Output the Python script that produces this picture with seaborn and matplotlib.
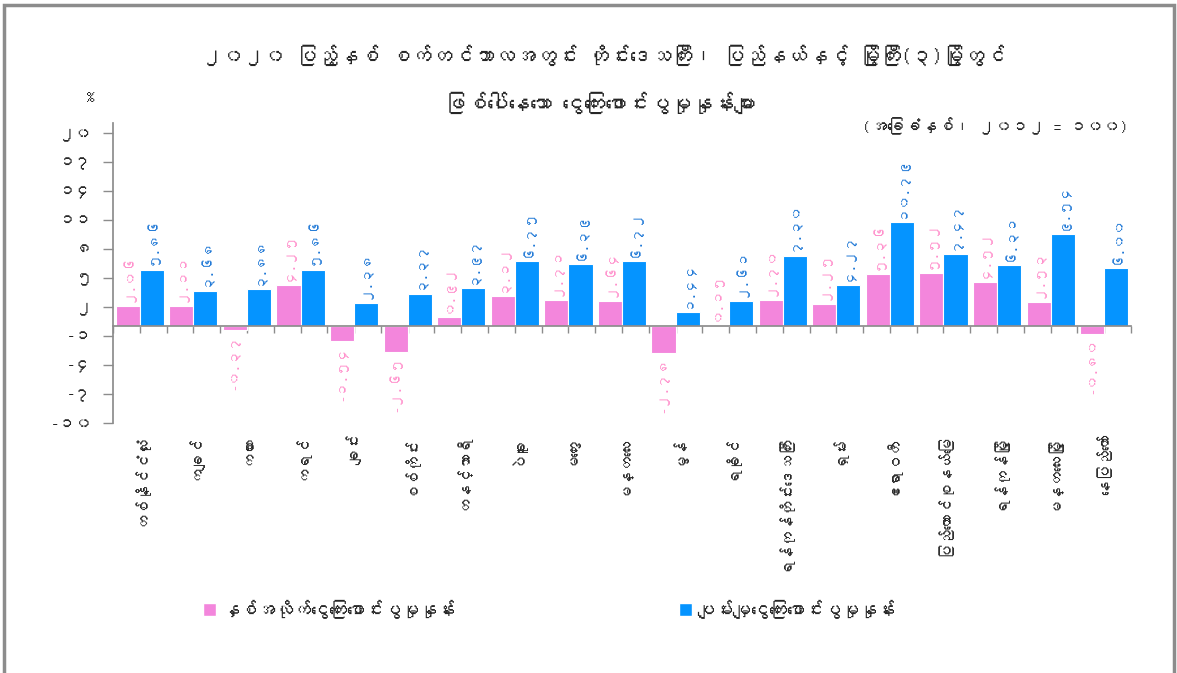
import numpy as np
import pandas as pd
import matplotlib
matplotlib.use("Agg")
import matplotlib.pyplot as plt
import matplotlib.patches as mpatches
from matplotlib import font_manager as fm
from matplotlib.ft2font import FT2Font
import seaborn as sns

import warnings
warnings.filterwarnings("ignore")

# regions / states, union territory and 3 big cities
regions = ["တစ်နိုင်ငံလုံး", "ကချင်", "ကယား", "ကရင်", "ချင်း", "စစ်ကိုင်း", "တနင်္သာရီ",
           "ပဲခူး", "မကွေး", "မန္တလေး", "မွန်", "ရခိုင်", "ရန်ကုန်တိုင်းဒေသကြီး", "ရှမ်း",
           "ဧရာဝတီ", "ပြည်ထောင်စုနယ်မြေ", "ရန်ကုန်မြို့", "မန္တလေးမြို့", "နေပြည်တော်"]
# year-on-year inflation
yoy = [2.06, 2.11, -0.37, 4.25, -1.54, -2.65, 0.92, 3.12, 2.71, 2.64, -2.78, 0.15,
       2.70, 2.25, 5.36, 5.52, 4.52, 2.53, -0.80]
# average inflation
avg = [5.86, 3.68, 3.88, 5.86, 2.38, 3.37, 3.97, 6.75, 6.39, 6.72, 1.44, 2.61,
       7.30, 4.27, 10.79, 7.47, 6.31, 9.54, 6.00]
series_names = ["နှစ်အလိုက်ငွေကြေးဖောင်းပွမှုနှုန်း", "ပျမ်းမျှငွေကြေးဖောင်းပွမှုနှုန်း"]
y_ticks = [-10, -7, -4, -1, 2, 5, 8, 11, 14, 17, 20]

title_lines = ["၂၀၂၀ ပြည့်နှစ် စက်တင်ဘာလအတွင်း တိုင်းဒေသကြီး၊ ပြည်နယ်နှင့် မြို့ကြီး(၃)မြို့တွင်",
               "ဖြစ်ပေါ်နေသော ငွေကြေးဖောင်းပွမှုနှုန်းများ"]
base_note = "(အခြေခံနှစ်၊ ၂၀၁၂ = ၁၀၀)"

pink = "#F386DC"
blue = "#0594FF"
pink_txt = "#FF8FCB"
blue_txt = "#1F78D6"
grey = "#8C8C8C"

MM_DIGITS = str.maketrans("0123456789", "၀၁၂၃၄၅၆၇၈၉")


def mm(s):
    return str(s).translate(MM_DIGITS)


def find_myanmar_font():
    # look for any installed font that has Myanmar glyphs
    for f in fm.fontManager.ttflist:
        try:
            if 0x1000 in FT2Font(f.fname).get_charmap():
                return f.name
        except Exception:
            pass
    return None


sns.set_theme(style="white")
mm_font = find_myanmar_font()
families = [mm_font, "DejaVu Sans"] if mm_font else ["DejaVu Sans"]
plt.rcParams["font.family"] = families

df = pd.DataFrame({
    "region": regions * 2,
    "series": [series_names[0]] * len(regions) + [series_names[1]] * len(regions),
    "value": yoy + avg,
})

fig = plt.figure(figsize=(11.77, 6.73), dpi=100)
ax = fig.add_axes([113 / 1177, 1 - 423 / 673, (1131 - 113) / 1177, (423 - 123) / 673])

sns.barplot(data=df, x="region", y="value", hue="series", palette=[pink, blue],
            width=0.9, saturation=1, legend=False, ax=ax,
            edgecolor="white", linewidth=0.8)

ax.set_ylim(-10, 21)
ax.set_xlim(-0.5, len(regions) - 0.5)
ax.set_xlabel("")
ax.set_ylabel("")

# y axis with myanmar numerals
ax.set_yticks(y_ticks)
ax.set_yticklabels([mm(v) for v in y_ticks], fontsize=12)
ax.tick_params(axis="y", length=7, width=1, color=grey, left=True, pad=8)

# x axis line sits on zero, category names stay at the bottom
for s in ["top", "right"]:
    ax.spines[s].set_visible(False)
ax.spines["left"].set_color(grey)
ax.spines["bottom"].set_color(grey)
ax.spines["bottom"].set_position(("data", 0))
ax.set_xticks(np.arange(-0.5, len(regions), 0.5))
ax.set_xticklabels([])
ax.tick_params(axis="x", length=5, width=1, color=grey, bottom=True)

sec = ax.secondary_xaxis("bottom")
sec.set_xticks(range(len(regions)))
sec.set_xticklabels(regions, rotation=90, fontsize=11, va="top")
sec.tick_params(length=0, pad=8)
sec.spines["bottom"].set_visible(False)

# value labels
for cont, vals, col in zip(ax.containers, [yoy, avg], [pink_txt, blue_txt]):
    ax.bar_label(cont, labels=[mm(f"{v:.2f}") for v in vals], rotation=90,
                 color=col, fontsize=10, padding=3)

fig.text(0.513, 1 - 55 / 673, title_lines[0], ha="center", va="center", fontsize=15)
fig.text(0.51, 1 - 103 / 673, title_lines[1], ha="center", va="center", fontsize=15.5)
fig.text(90 / 1177, 1 - 97 / 673, "%", ha="center", va="center", fontsize=12)
fig.text(1128 / 1177, 1 - 126 / 673, base_note, ha="right", va="center", fontsize=12)

# legend entries at the bottom
for name, col, x in zip(series_names, [pink, blue], [196, 672]):
    h = mpatches.Patch(facecolor=col, edgecolor="white", label=name)
    fig.legend(handles=[h], loc="center left", bbox_to_anchor=(x / 1177, 1 - 609 / 673),
               frameon=False, fontsize=13, handlelength=0.7, handleheight=0.7,
               handletextpad=0.3, borderaxespad=0)

# grey frame around the chart
fig.patches.append(mpatches.Rectangle((4 / 1177, -0.05), 1170 / 1177, 1.05 - 5.5 / 673,
                                      transform=fig.transFigure, fill=False,
                                      edgecolor=grey, linewidth=2.5))

fig.savefig("out.png", dpi=100)
